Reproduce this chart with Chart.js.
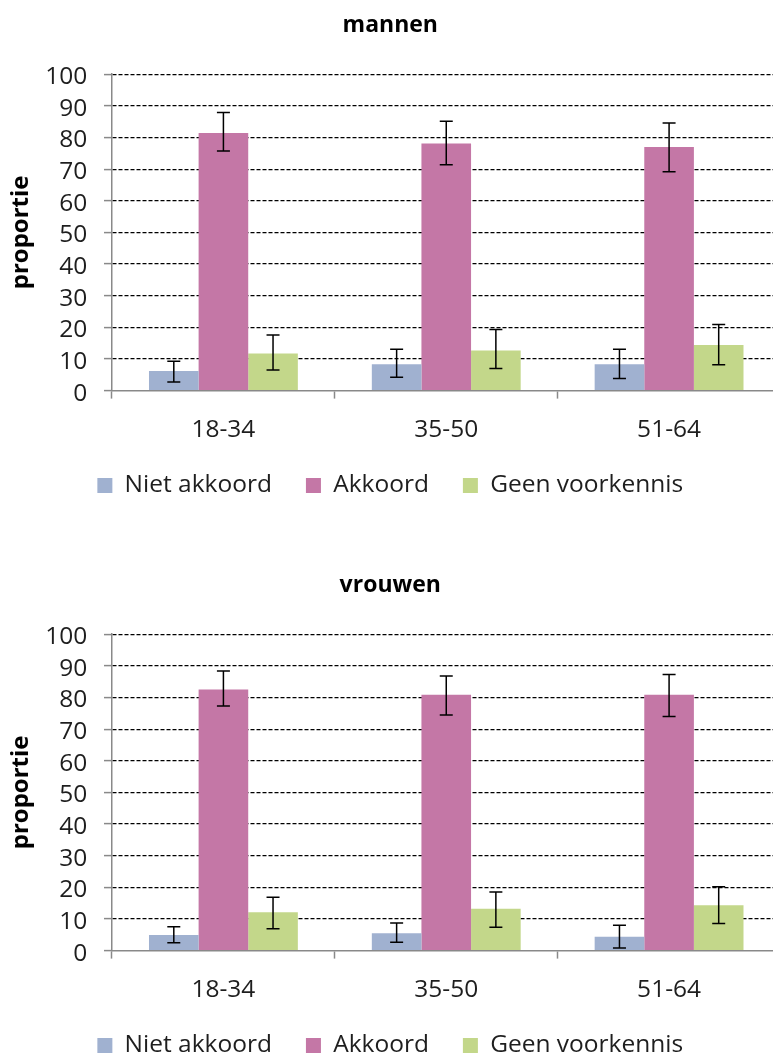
<!DOCTYPE html>
<html>
<head>
<meta charset="utf-8">
<script src="https://cdn.jsdelivr.net/npm/chart.js@4/dist/chart.umd.min.js"></script>
<style>
  html, body { margin: 0; padding: 0; background: #ffffff; }
  #wrap { width: 773px; height: 1054px; overflow: hidden; position: relative; }
  canvas { display: block; }
</style>
</head>
<body>
<div id="wrap">
  <canvas id="c1" width="782" height="560"></canvas>
  <canvas id="c2" width="782" height="560"></canvas>
</div>
<script>
// ---- data ----
const categories = ['18-34', '35-50', '51-64'];
const seriesNames = ['Niet akkoord', 'Akkoord', 'Geen voorkennis'];
const seriesColors = ['#A0B1D0', '#C477A6', '#C3D78A'];

// mannen
const mannenNietAkkoord = [6.2, 8.3, 8.3];
const mannenNietAkkoordLow = [2.7, 4.2, 3.8];
const mannenNietAkkoordHigh = [9.3, 13.1, 13.1];
const mannenAkkoord = [81.4, 78.1, 77.0];
const mannenAkkoordLow = [75.7, 71.4, 69.2];
const mannenAkkoordHigh = [87.9, 85.1, 84.6];
const mannenGeen = [11.7, 12.7, 14.4];
const mannenGeenLow = [6.5, 7.0, 8.2];
const mannenGeenHigh = [17.6, 19.3, 20.9];

// vrouwen
const vrouwenNietAkkoord = [4.9, 5.5, 4.4];
const vrouwenNietAkkoordLow = [2.5, 2.6, 0.8];
const vrouwenNietAkkoordHigh = [7.5, 8.7, 8.0];
const vrouwenAkkoord = [82.5, 80.9, 80.9];
const vrouwenAkkoordLow = [77.3, 74.5, 74.0];
const vrouwenAkkoordHigh = [88.4, 86.8, 87.3];
const vrouwenGeen = [12.1, 13.2, 14.3];
const vrouwenGeenLow = [6.9, 7.4, 8.6];
const vrouwenGeenHigh = [16.9, 18.5, 20.2];

const yMin = 0, yMax = 100, yStep = 10;
const yTitle = 'proportie';

// ---- error bar plugin (uses the chart's own scales) ----
const errorBars = {
  id: 'errorBars',
  afterDatasetsDraw(chart) {
    const ctx = chart.ctx;
    const ys = chart.scales.y;
    chart.data.datasets.forEach((ds, di) => {
      const meta = chart.getDatasetMeta(di);
      if (meta.hidden) return;
      meta.data.forEach((bar, i) => {
        const yt = ys.getPixelForValue(ds.errHigh[i]);
        const yb = ys.getPixelForValue(ds.errLow[i]);
        const x = bar.x;
        const cap = 6.5;
        ctx.save();
        ctx.strokeStyle = '#000000';
        ctx.lineWidth = 1.5;
        ctx.beginPath();
        ctx.moveTo(x, yt); ctx.lineTo(x, yb);
        ctx.moveTo(x - cap, yt); ctx.lineTo(x + cap, yt);
        ctx.moveTo(x - cap, yb); ctx.lineTo(x + cap, yb);
        ctx.stroke();
        ctx.restore();
      });
    });
  }
};

const FONT = '"Open Sans", "Liberation Sans", sans-serif';
const AXIS_GREY = '#898989';
const TEXT = '#1e1e1e';

function makeChart(id, title, vals, lows, highs) {
  const datasets = seriesNames.map((name, k) => ({
    label: name,
    data: vals[k],
    errLow: lows[k],
    errHigh: highs[k],
    backgroundColor: seriesColors[k],
    borderWidth: 0,
    categoryPercentage: 0.668,
    barPercentage: 1.0
  }));
  return new Chart(document.getElementById(id), {
    type: 'bar',
    data: { labels: categories, datasets },
    plugins: [errorBars],
    options: {
      responsive: false,
      animation: false,
      devicePixelRatio: 1,
      layout: { padding: { top: 0, left: 0, right: 1.5, bottom: 52.3 } },
      plugins: {
        tooltip: { enabled: false },
        title: {
          display: true,
          text: title,
          color: '#000000',
          font: { family: FONT, size: 23, weight: 'bold', lineHeight: 1.2 },
          padding: { top: 12, bottom: 34.6 }
        },
        legend: {
          display: true,
          position: 'bottom',
          labels: {
            boxWidth: 15,
            boxHeight: 15,
            padding: 34,
            color: TEXT,
            font: { family: FONT, size: 24.5, lineHeight: 1.2 }
          }
        }
      },
      scales: {
        x: {
          afterFit: (s) => { s.height = 48.6; },
          grid: {
            display: true,
            drawOnChartArea: false,
            drawTicks: true,
            tickLength: 8,
            tickColor: AXIS_GREY,
            tickWidth: 1.5,
            offset: true
          },
          border: { display: true, color: AXIS_GREY, width: 1.5 },
          ticks: {
            color: TEXT,
            padding: 16.6,
            font: { family: FONT, size: 24.5, lineHeight: 1.2 }
          }
        },
        y: {
          min: yMin,
          max: yMax,
          afterFit: (s) => { s.width = 112; },
          grid: {
            display: true,
            drawTicks: true,
            tickLength: 8,
            tickColor: AXIS_GREY,
            tickWidth: 1.5,
            color: (c) => (c.tick && c.tick.value === 0) ? 'rgba(0,0,0,0)' : '#000000',
            lineWidth: 1.2
          },
          border: { display: true, color: AXIS_GREY, width: 1.5, dash: [4, 2] },
          ticks: {
            stepSize: yStep,
            autoSkip: false,
            maxTicksLimit: 20,
            color: TEXT,
            padding: 16.7,
            labelOffset: 3,
            font: { family: FONT, size: 24.5, lineHeight: 0.9 }
          },
          title: {
            display: true,
            text: yTitle,
            color: '#000000',
            font: { family: FONT, size: 24, weight: 'bold', lineHeight: 1.2 },
            padding: { top: 7, bottom: 0 }
          }
        }
      }
    }
  });
}

makeChart('c1', 'mannen',
  [mannenNietAkkoord, mannenAkkoord, mannenGeen],
  [mannenNietAkkoordLow, mannenAkkoordLow, mannenGeenLow],
  [mannenNietAkkoordHigh, mannenAkkoordHigh, mannenGeenHigh]);

makeChart('c2', 'vrouwen',
  [vrouwenNietAkkoord, vrouwenAkkoord, vrouwenGeen],
  [vrouwenNietAkkoordLow, vrouwenAkkoordLow, vrouwenGeenLow],
  [vrouwenNietAkkoordHigh, vrouwenAkkoordHigh, vrouwenGeenHigh]);
</script>
</body>
</html>
